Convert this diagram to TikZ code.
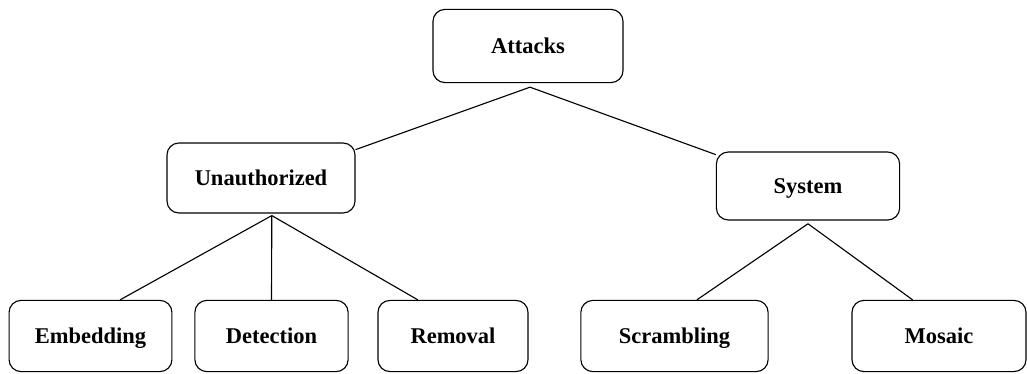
\documentclass[tikz,border=0pt]{standalone}
\usepackage{fontspec}
\setmainfont{Liberation Serif}
\usetikzlibrary{positioning}

\begin{document}
\begin{tikzpicture}[
    x=0.025cm, y=-0.025cm,
    box/.style={rectangle, draw, rounded corners=0.3cm, line width=0.8pt,
        minimum height=1.78cm, text height=1.05em, text depth=0.05em,
        text centered, font=\fontsize{16}{19}\selectfont\bfseries},
    link/.style={line width=0.8pt}
]
    \useasboundingbox (0,0) rectangle (1027,374);

    % Root
    \node[box, minimum width=4.75cm, minimum height=1.83cm] (attacks) at (528,46) {Attacks};

    % Second level
    \node[box, minimum width=4.7cm, minimum height=1.75cm] (unauth) at (261,178) {Unauthorized};
    \node[box, minimum width=4.58cm, minimum height=1.7cm] (system) at (808,186) {System};

    % Leaves
    \node[box, minimum width=4.07cm] (embed) at (90.5,336) {Embedding};
    \node[box, minimum width=3.83cm] (detect) at (271.5,336) {Detection};
    \node[box, minimum width=3.75cm] (removal) at (453,336) {Removal};
    \node[box, minimum width=4.68cm] (scramble) at (674.5,336) {Scrambling};
    \node[box, minimum width=4.35cm] (mosaic) at (939,336) {Mosaic};

    % Fork points just under the parents
    \coordinate (attacksfork) at ([xshift=0.05cm, yshift=-0.1cm]attacks.south);
    \coordinate (unauthfork) at ([xshift=0.27cm, yshift=-0.05cm]unauth.south);
    \coordinate (systemfork) at ([yshift=-0.08cm]system.south);

    % Links
    \draw[link] (attacksfork) -- ([yshift=-0.18cm]unauth.north east);
    \draw[link] (attacksfork) -- ([yshift=-0.08cm]system.north west);
    \draw[link] (unauthfork) -- ([xshift=0.74cm]embed.north);
    \draw[link] (unauthfork) -- (detect.north);
    \draw[link] (unauthfork) -- ([xshift=-0.88cm]removal.north);
    \draw[link] (systemfork) -- ([xshift=0.56cm]scramble.north);
    \draw[link] (systemfork) -- ([xshift=-0.66cm]mosaic.north);
\end{tikzpicture}
\end{document}
